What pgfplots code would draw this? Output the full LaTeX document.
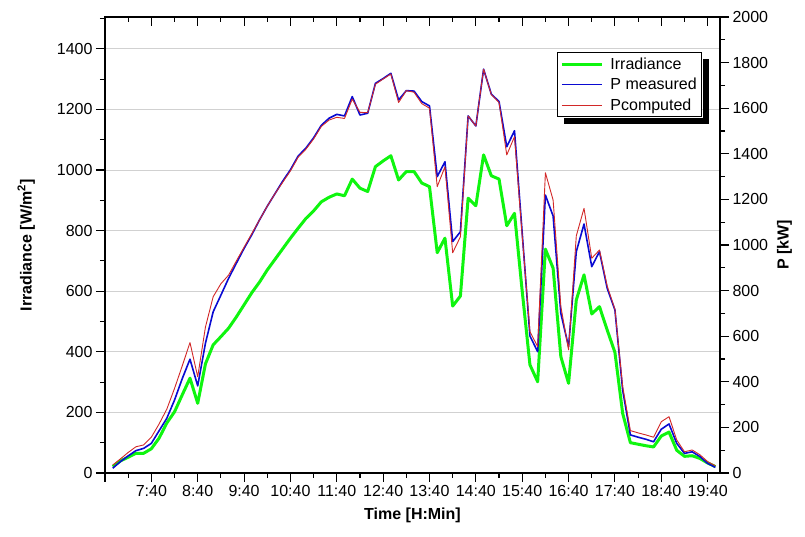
\documentclass[border=0pt]{standalone}
\usepackage{pgfplots}
\pgfplotsset{compat=1.18}
\usepackage{pgfplotstable}
\usepackage{fontspec}
\setmainfont{Liberation Sans}

\definecolor{irrgreen}{RGB}{15,245,15}
\definecolor{pmblue}{RGB}{10,10,210}
\definecolor{pcred}{RGB}{210,40,40}

\pgfplotstableread{
t irr pm pc
410 21 21 35
420 40 50 62
430 52 75 90
440 65 98 115
450 65 108 123
460 80 130 157
470 115 185 215
480 165 240 280
490 202 320 371
500 258 414 470
510 313 499 572
520 230 382 422
530 360 569 640
540 423 707 773
550 450 780 830
560 478 854 868
570 515 920 930
580 555 985 990
590 595 1045 1050
600 630 1110 1110
610 670 1170 1170
620 705 1225 1225
630 740 1280 1275
640 775 1330 1325
650 808 1390 1385
660 840 1425 1420
670 865 1470 1465
680 895 1525 1520
690 910 1556 1548
700 921 1573 1560
710 915 1566 1555
720 970 1651 1640
730 940 1570 1582
740 929 1578 1580
750 1011 1709 1705
760 1030 1730 1728
770 1047 1753 1750
780 967 1636 1625
790 995 1677 1677
800 995 1675 1670
810 957 1629 1620
820 945 1610 1600
830 727 1300 1256
840 775 1365 1343
850 551 1015 966
860 584 1058 1036
870 907 1566 1566
880 882 1522 1522
890 1050 1771 1771
900 981 1662 1660
910 970 1629 1625
920 816 1431 1395
930 857 1501 1475
940 600 1052 1040
950 357 601 620
960 301 532 554
970 739 1219 1317
980 676 1127 1197
990 384 700 730
1000 296 554 540
1010 571 971 1040
1020 654 1092 1161
1030 525 905 942
1040 549 971 978
1050 472 810 820
1060 398 715 718
1070 197 364 380
1080 100 167 186
1090 95 157 176
1100 90 148 167
1110 86 137 157
1120 122 192 225
1130 135 215 247
1140 75 130 145
1150 55 86 93
1160 57 93 101
1170 48 72 80
1180 33 42 50
1190 21 25 32
}\data

\begin{document}
\begin{tikzpicture}
\pgfplotsset{
  common/.style={
    scale only axis, width=615pt, height=456pt,
    xmin=400, xmax=1196,
    /pgf/number format/assume math mode=true,
    /pgf/number format/1000 sep={},
    tick label style={font=\fontsize{16}{19}\selectfont},
    label style={font=\bfseries\fontsize{16}{19}\selectfont},
    major tick length=9pt, minor tick length=5pt,
    every tick/.style={black, line width=1.1pt},
    axis line style={line width=1.3pt, -},
  }
}
% main axis: irradiance, left, bottom
\begin{axis}[common,
  ymin=0, ymax=1505,
  ytick={0,200,...,1400}, minor ytick={100,300,...,1500},
  ytick pos=left, xtick pos=bottom, tick align=outside,
  xtick={400,460,...,1180},
  xticklabels={,7:40,8:40,9:40,10:40,11:40,12:40,13:40,14:40,15:40,16:40,17:40,18:40,19:40},
  minor xtick={430,490,...,1190},
  ymajorgrids, grid style={black!18, line width=0.9pt},
  xlabel={Time [H:Min]},
  ylabel={Irradiance [W/m\textsuperscript{2}]},
  xlabel style={yshift=-4pt},
  ylabel style={yshift=15pt},
]
\coordinate (bl) at (rel axis cs:0,0);
\coordinate (tr) at (rel axis cs:1,1);
\addplot[irrgreen, line width=3pt, line join=round] table[x=t,y=irr]{\data};
\end{axis}
% top ticks inward
\begin{axis}[common,
  ymin=0, ymax=1,
  axis x line*=top, axis y line=none,
  tick align=inside,
  xtick={400,460,...,1180}, xticklabels={},
  minor xtick={430,490,...,1190},
]
\end{axis}
% right axis: power
\begin{axis}[common,
  ymin=0, ymax=2000,
  axis y line*=right, axis x line=none,
  tick align=outside,
  ytick={0,200,...,2000}, minor ytick={100,300,...,1900},
  ylabel={P [kW]},
  ylabel style={yshift=-2pt},
  legend style={at={(0.735,0.923)}, anchor=north west, name=leg,
    draw=black, fill=white, line width=0.8pt,
    font=\fontsize{16}{19}\selectfont,
    inner xsep=3pt, inner ysep=3pt, row sep=3.5pt, column sep=5pt},
  legend cell align=left,
  legend image code/.code={\draw[#1] (0pt,0pt) -- (40pt,0pt);},
]
\addlegendimage{irrgreen, line width=3pt}
\addlegendentry{Irradiance}
\addplot[pmblue, line width=1.6pt, line join=round] table[x=t,y=pm]{\data};
\addlegendentry{P measured}
\addplot[pcred, line width=0.9pt, line join=round] table[x=t,y=pc]{\data};
\addlegendentry{Pcomputed}
\end{axis}
% legend shadow (the parts that stick out)
\fill[black] ([xshift=0.4pt,yshift=-7pt]leg.north east) rectangle ([xshift=7pt,yshift=-7pt]leg.south east);
\fill[black] ([xshift=7pt,yshift=-0.4pt]leg.south west) rectangle ([xshift=7pt,yshift=-7pt]leg.south east);
\pgfresetboundingbox
\path ([xshift=-105pt,yshift=-64pt]bl) rectangle ([xshift=85pt,yshift=17pt]tr);
\end{tikzpicture}
\end{document}
